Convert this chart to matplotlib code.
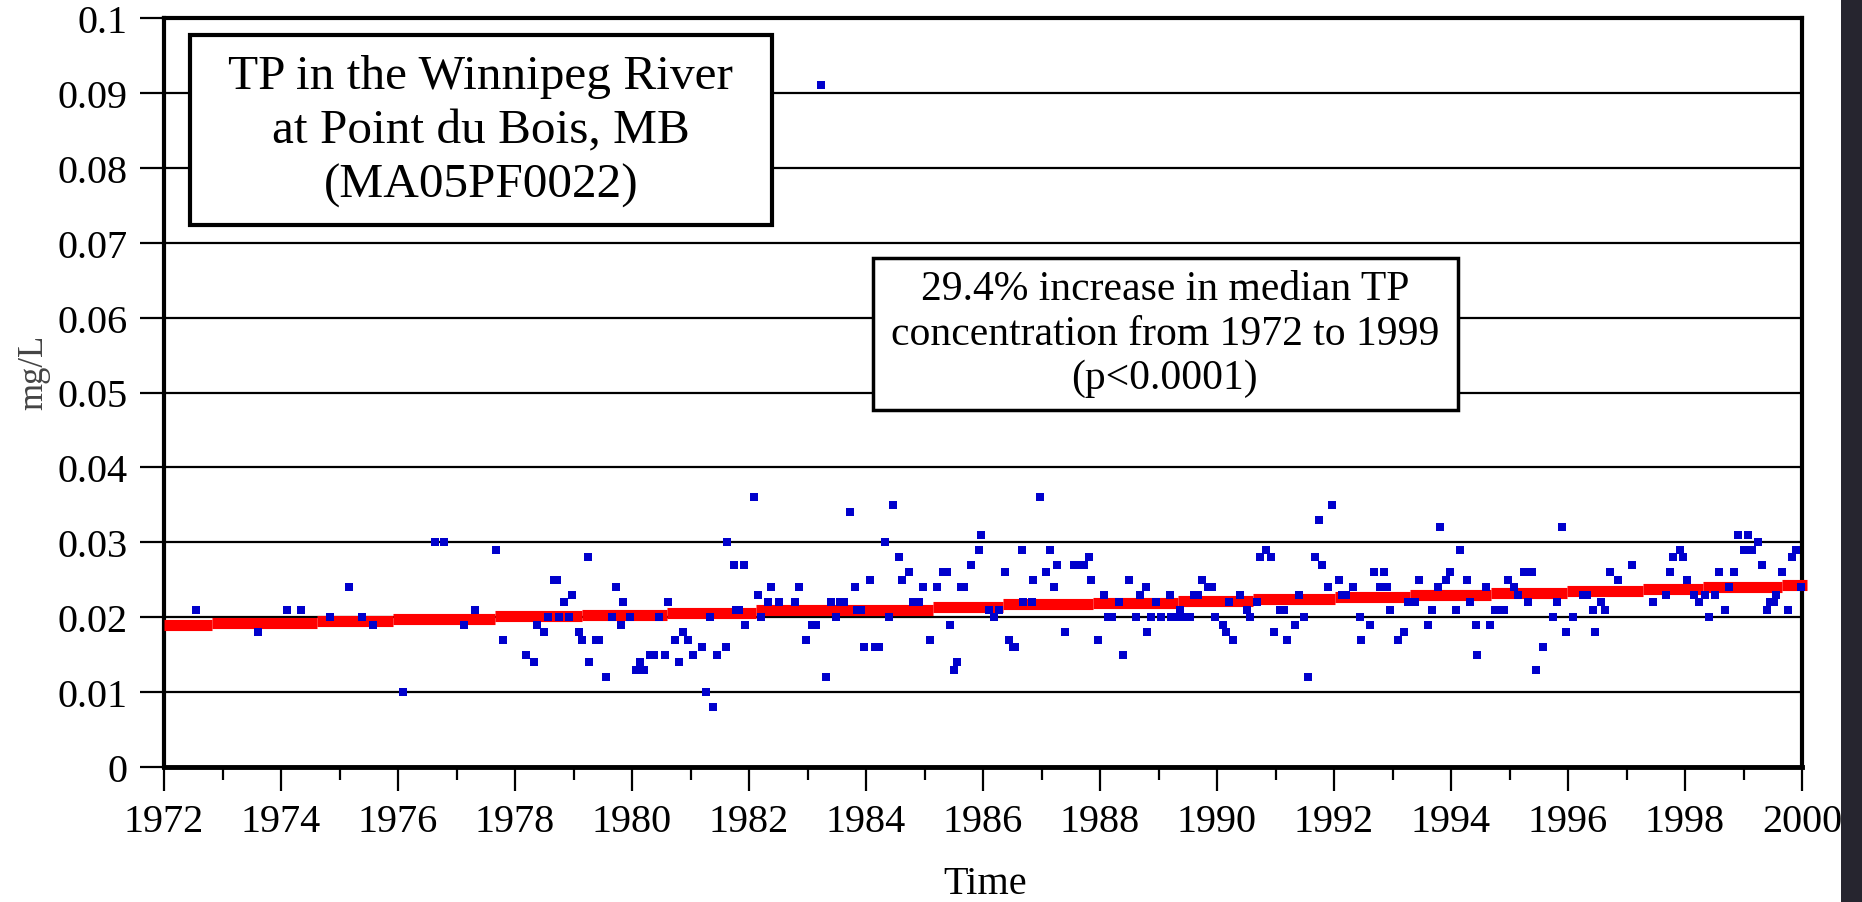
import numpy as np
import matplotlib
matplotlib.use("Agg")
import matplotlib.pyplot as plt
from matplotlib.patches import Rectangle
from matplotlib.ticker import MultipleLocator, FixedLocator, FixedFormatter

plt.rcParams['font.family'] = ['Liberation Serif', 'DejaVu Serif']

# sample dates (decimal year) and total phosphorus (mg/L)
dates = [
    1972.54, 1973.60, 1974.11, 1974.35, 1974.83, 1975.17, 1975.39, 1975.58, 1976.09, 1976.64,
    1976.78, 1977.12, 1977.32, 1977.67, 1977.80, 1978.18, 1978.32, 1978.38, 1978.49, 1978.56,
    1978.66, 1978.71, 1978.76, 1978.83, 1978.93, 1978.97, 1979.10, 1979.14, 1979.24, 1979.27,
    1979.38, 1979.44, 1979.55, 1979.65, 1979.72, 1979.82, 1979.85, 1979.96, 1980.06, 1980.13,
    1980.20, 1980.30, 1980.37, 1980.47, 1980.57, 1980.61, 1980.74, 1980.81, 1980.88, 1980.95,
    1981.05, 1981.19, 1981.26, 1981.33, 1981.39, 1981.46, 1981.60, 1981.63, 1981.74, 1981.77,
    1981.83, 1981.91, 1981.94, 1982.08, 1982.15, 1982.21, 1982.32, 1982.38, 1982.52, 1982.79,
    1982.86, 1982.97, 1983.07, 1983.14, 1983.23, 1983.31, 1983.41, 1983.48, 1983.55, 1983.62,
    1983.72, 1983.82, 1983.85, 1983.92, 1983.96, 1984.06, 1984.16, 1984.22, 1984.33, 1984.40,
    1984.47, 1984.57, 1984.61, 1984.74, 1984.81, 1984.91, 1984.98, 1985.09, 1985.22, 1985.32,
    1985.38, 1985.43, 1985.50, 1985.56, 1985.63, 1985.68, 1985.80, 1985.94, 1985.97, 1986.10,
    1986.18, 1986.28, 1986.38, 1986.45, 1986.52, 1986.55, 1986.66, 1986.69, 1986.83, 1986.86,
    1986.97, 1987.07, 1987.14, 1987.21, 1987.27, 1987.41, 1987.55, 1987.62, 1987.72, 1987.82,
    1987.85, 1987.96, 1988.06, 1988.13, 1988.20, 1988.33, 1988.40, 1988.50, 1988.61, 1988.68,
    1988.78, 1988.81, 1988.88, 1988.95, 1989.05, 1989.19, 1989.22, 1989.32, 1989.36, 1989.43,
    1989.53, 1989.60, 1989.67, 1989.74, 1989.84, 1989.91, 1989.97, 1990.11, 1990.15, 1990.21,
    1990.28, 1990.39, 1990.52, 1990.56, 1990.69, 1990.73, 1990.83, 1990.93, 1990.97, 1991.07,
    1991.14, 1991.20, 1991.34, 1991.41, 1991.48, 1991.55, 1991.68, 1991.75, 1991.79, 1991.89,
    1991.96, 1992.09, 1992.13, 1992.20, 1992.33, 1992.44, 1992.47, 1992.61, 1992.68, 1992.78,
    1992.85, 1992.91, 1992.95, 1993.09, 1993.19, 1993.26, 1993.39, 1993.46, 1993.60, 1993.67,
    1993.78, 1993.81, 1993.91, 1993.98, 1994.08, 1994.15, 1994.27, 1994.32, 1994.42, 1994.45,
    1994.59, 1994.66, 1994.76, 1994.83, 1994.90, 1994.97, 1995.07, 1995.14, 1995.24, 1995.31,
    1995.38, 1995.45, 1995.58, 1995.75, 1995.82, 1995.89, 1995.96, 1996.09, 1996.26, 1996.33,
    1996.43, 1996.47, 1996.57, 1996.64, 1996.71, 1996.85, 1997.09, 1997.46, 1997.67, 1997.74,
    1997.80, 1997.91, 1997.97, 1998.04, 1998.15, 1998.24, 1998.35, 1998.41, 1998.52, 1998.58,
    1998.69, 1998.76, 1998.83, 1998.90, 1999.00, 1999.07, 1999.14, 1999.24, 1999.31, 1999.41,
    1999.45, 1999.52, 1999.55, 1999.66, 1999.76, 1999.83, 1999.90, 1999.99,
]
tp = [
    0.021, 0.018, 0.021, 0.021, 0.020, 0.024, 0.020, 0.019, 0.010, 0.030,
    0.030, 0.019, 0.021, 0.029, 0.017, 0.015, 0.014, 0.019, 0.018, 0.020,
    0.025, 0.025, 0.020, 0.022, 0.020, 0.023, 0.018, 0.017, 0.028, 0.014,
    0.017, 0.017, 0.012, 0.020, 0.024, 0.019, 0.022, 0.020, 0.013, 0.014,
    0.013, 0.015, 0.015, 0.020, 0.015, 0.022, 0.017, 0.014, 0.018, 0.017,
    0.015, 0.016, 0.010, 0.020, 0.008, 0.015, 0.016, 0.030, 0.027, 0.021,
    0.021, 0.027, 0.019, 0.036, 0.023, 0.020, 0.022, 0.024, 0.022, 0.022,
    0.024, 0.017, 0.019, 0.019, 0.091, 0.012, 0.022, 0.020, 0.022, 0.022,
    0.034, 0.024, 0.021, 0.021, 0.016, 0.025, 0.016, 0.016, 0.030, 0.020,
    0.035, 0.028, 0.025, 0.026, 0.022, 0.022, 0.024, 0.017, 0.024, 0.026,
    0.026, 0.019, 0.013, 0.014, 0.024, 0.024, 0.027, 0.029, 0.031, 0.021,
    0.020, 0.021, 0.026, 0.017, 0.016, 0.016, 0.029, 0.022, 0.022, 0.025,
    0.036, 0.026, 0.029, 0.024, 0.027, 0.018, 0.027, 0.027, 0.027, 0.028,
    0.025, 0.017, 0.023, 0.020, 0.020, 0.022, 0.015, 0.025, 0.020, 0.023,
    0.024, 0.018, 0.020, 0.022, 0.020, 0.023, 0.020, 0.020, 0.021, 0.020,
    0.020, 0.023, 0.023, 0.025, 0.024, 0.024, 0.020, 0.019, 0.018, 0.022,
    0.017, 0.023, 0.021, 0.020, 0.022, 0.028, 0.029, 0.028, 0.018, 0.021,
    0.021, 0.017, 0.019, 0.023, 0.020, 0.012, 0.028, 0.033, 0.027, 0.024,
    0.035, 0.025, 0.023, 0.023, 0.024, 0.020, 0.017, 0.019, 0.026, 0.024,
    0.026, 0.024, 0.021, 0.017, 0.018, 0.022, 0.022, 0.025, 0.019, 0.021,
    0.024, 0.032, 0.025, 0.026, 0.021, 0.029, 0.025, 0.022, 0.019, 0.015,
    0.024, 0.019, 0.021, 0.021, 0.021, 0.025, 0.024, 0.023, 0.026, 0.022,
    0.026, 0.013, 0.016, 0.020, 0.022, 0.032, 0.018, 0.020, 0.023, 0.023,
    0.021, 0.018, 0.022, 0.021, 0.026, 0.025, 0.027, 0.022, 0.023, 0.026,
    0.028, 0.029, 0.028, 0.025, 0.023, 0.022, 0.023, 0.020, 0.023, 0.026,
    0.021, 0.024, 0.026, 0.031, 0.029, 0.031, 0.029, 0.030, 0.027, 0.021,
    0.022, 0.022, 0.023, 0.026, 0.021, 0.028, 0.029, 0.024,
]

# stepped median trend line (start of each step, level)
trend_start = [1972.00, 1972.82, 1974.61, 1975.92, 1977.66, 1979.14, 1980.59, 1982.12,
               1985.15, 1986.34, 1987.88, 1989.33, 1990.62, 1992.02, 1993.30, 1994.69,
               1995.98, 1997.29, 1998.31, 1999.65, 2000.08]
trend_level = [0.01900, 0.01925, 0.01950, 0.01980, 0.02010, 0.02030, 0.02060, 0.02090,
               0.02140, 0.02170, 0.02190, 0.02220, 0.02240, 0.02270, 0.02290, 0.02320,
               0.02350, 0.02370, 0.02400, 0.02430, 0.02430]

y_ticks = [0, 0.01, 0.02, 0.03, 0.04, 0.05, 0.06, 0.07, 0.08, 0.09, 0.1]
y_labels = ['0', '0.01', '0.02', '0.03', '0.04', '0.05', '0.06', '0.07', '0.08', '0.09', '0.1']
x_ticks = list(range(1972, 2001, 2))

title_text = "TP in the Winnipeg River\nat Point du Bois, MB\n(MA05PF0022)"
trend_text = "29.4% increase in median TP\nconcentration from 1972 to 1999\n(p<0.0001)"

W, H = 1862, 903
fig = plt.figure(figsize=(W / 100, H / 100), dpi=100)
fig.patch.set_facecolor('white')
ax = fig.add_axes([164 / W, (H - 768) / H, 1638 / W, 749 / H])

ax.set_xlim(1972, 2000)
ax.set_ylim(0, 0.1)

# gridlines
ax.yaxis.set_major_locator(FixedLocator(y_ticks))
ax.yaxis.set_major_formatter(FixedFormatter(y_labels))
ax.yaxis.grid(True, color='black', linewidth=1.6, zorder=1)
ax.set_axisbelow(True)

ax.xaxis.set_major_locator(FixedLocator(x_ticks))
ax.xaxis.set_minor_locator(MultipleLocator(1))

ax.tick_params(axis='both', which='major', direction='out', length=17, width=1.6,
               labelsize=29, pad=9, colors='black')
ax.tick_params(axis='x', which='minor', direction='out', length=9, width=1.6)
ax.tick_params(axis='y', which='both', right=False)
ax.tick_params(axis='x', which='both', top=False)

for s in ax.spines.values():
    s.set_linewidth(3)
    s.set_color('black')
ax.spines['bottom'].set_linewidth(3.5)

# trend steps
for i in range(len(trend_start) - 1):
    ax.hlines(trend_level[i], trend_start[i], trend_start[i + 1], colors='#ff0000',
              linewidth=8, zorder=3, clip_on=False)

# observations
ax.plot(dates, tp, linestyle='none', marker='s', markersize=6.3, color='#0000cc',
        markeredgewidth=0, zorder=4, clip_on=False)

# title box
ax.add_patch(Rectangle((0.016, 0.724), 0.355, 0.253, transform=ax.transAxes,
                       facecolor='white', edgecolor='black', linewidth=3, zorder=5))
ax.text(0.1935, 0.850, title_text, transform=ax.transAxes, ha='center', va='center',
        fontsize=35.5, linespacing=1.31, zorder=6)

# trend annotation box
ax.add_patch(Rectangle((0.433, 0.4766), 0.357, 0.2034, transform=ax.transAxes,
                       facecolor='white', edgecolor='black', linewidth=2.5, zorder=5))
ax.text(0.611, 0.579, trend_text, transform=ax.transAxes, ha='center', va='center',
        fontsize=30, linespacing=1.2, zorder=6)

fig.text(34 / W, 1 - 372 / H, 'mg/L', rotation=90, fontsize=25, color='#444444',
         ha='center', va='center')
fig.text(985 / W, 1 - 885 / H, 'Time', fontsize=29, ha='center', va='center')

# dark strip on the right edge
fig.patches.append(Rectangle((1841 / W, 0), 21 / W, 1, transform=fig.transFigure,
                             facecolor='#26252f', edgecolor='none', zorder=20))

fig.savefig('out.png', dpi=100)
